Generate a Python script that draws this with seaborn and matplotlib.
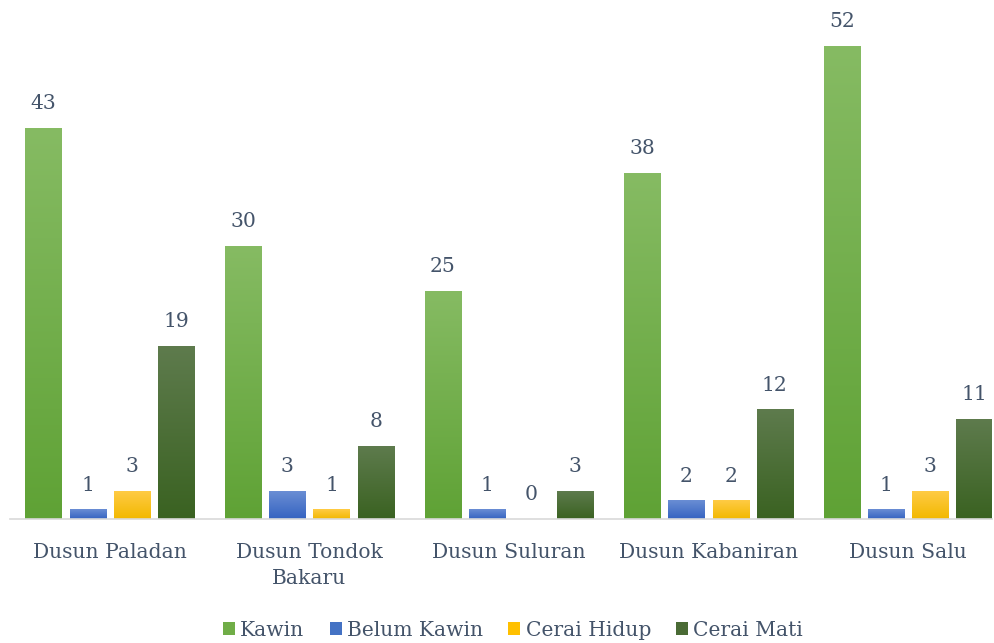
import numpy as np
import pandas as pd
import matplotlib
matplotlib.use("Agg")
import matplotlib.pyplot as plt
import seaborn as sns
from matplotlib.colors import LinearSegmentedColormap
from matplotlib.patches import Patch

categories = ["Dusun Paladan", "Dusun Tondok\nBakaru", "Dusun Suluran", "Dusun Kabaniran", "Dusun Salu"]
series_names = ["Kawin", "Belum Kawin", "Cerai Hidup", "Cerai Mati"]
kawin = [43, 30, 25, 38, 52]
belum_kawin = [1, 3, 1, 2, 1]
cerai_hidup = [3, 1, 0, 2, 3]
cerai_mati = [19, 8, 3, 12, 11]

top_colors = ["#86BB63", "#6A8ED4", "#FFCB45", "#5E7B4D"]
bottom_colors = ["#5FA235", "#3563C1", "#F2B800", "#3A6221"]
mid_colors = ["#70AD47", "#4472C4", "#FFC000", "#4A6B35"]

rows = []
for name, vals in zip(series_names, [kawin, belum_kawin, cerai_hidup, cerai_mati]):
    for c, v in zip(categories, vals):
        rows.append({"Dusun": c, "Status": name, "Jumlah": v})
df = pd.DataFrame(rows)

sns.set_theme(style="white")
plt.rcParams["font.family"] = ["DejaVu Serif"]
text_color = "#44546A"
fs = 14.6

fig = plt.figure(figsize=(9.94, 6.43), dpi=100)
ax = fig.add_axes([10 / 994, 1 - 519 / 643, 982 / 994, 509 / 643])
sns.barplot(data=df, x="Dusun", y="Jumlah", hue="Status", order=categories,
            hue_order=series_names, palette=mid_colors, width=0.885, gap=0.18,
            ax=ax, legend=False)

xlim = (-0.5, 4.42)
ylim = (0, 56)

for i, cont in enumerate(ax.containers):
    cmap = LinearSegmentedColormap.from_list(f"g{i}", [bottom_colors[i], top_colors[i]])
    grad = np.linspace(0, 1, 256).reshape(-1, 1)
    for p in cont.patches:
        x0, w, h = p.get_x(), p.get_width(), p.get_height()
        if h > 0:
            p.set_facecolor("none")
            p.set_edgecolor("none")
            ax.imshow(grad, extent=(x0, x0 + w, 0, h), origin="lower", cmap=cmap,
                      aspect="auto", zorder=2)
    ax.bar_label(cont, padding=11, fontsize=fs, color=text_color)
ax.set_xlim(*xlim)
ax.set_ylim(*ylim)

for s in ["top", "right", "left"]:
    ax.spines[s].set_visible(False)
ax.spines["bottom"].set_color("#D9D9D9")
ax.spines["bottom"].set_linewidth(1.2)
ax.set_yticks([])
ax.set_xlabel("")
ax.set_ylabel("")
ax.tick_params(axis="x", length=0, pad=17, labelsize=fs, labelcolor=text_color)
for t in ax.get_xticklabels():
    t.set_linespacing(1.5)
    t.set_verticalalignment("top")

handles = [Patch(facecolor=c, edgecolor="none") for c in mid_colors]
fig.legend(handles, series_names, loc="center", bbox_to_anchor=(513 / 994, 1 - 630 / 643),
           ncol=4, frameon=False, fontsize=fs, labelcolor=text_color,
           handlelength=0.6, handleheight=0.6, handletextpad=0.25, columnspacing=1.25)

fig.savefig("out.png", dpi=100)
